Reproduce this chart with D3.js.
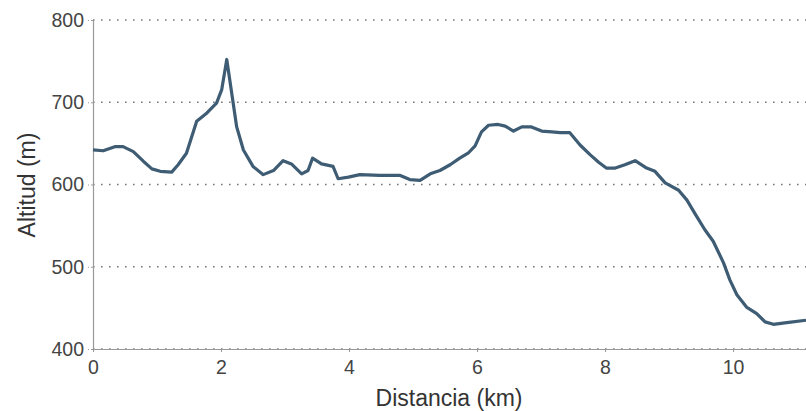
<!DOCTYPE html>
<html>
<head>
<meta charset="utf-8">
<script src="https://cdn.jsdelivr.net/npm/d3@7"></script>
<style>
  body { margin: 0; background: #fff; }
  svg { display: block; font-family: "Liberation Sans", Arial, sans-serif; }
</style>
</head>
<body>
<svg id="chart"></svg>
<script>
"use strict";

// distance (km) and altitude (m)
const distances = [
  0, 0.16, 0.34, 0.47, 0.63, 0.79, 0.92, 1.05, 1.23, 1.33, 1.46, 1.62, 1.78,
  1.93, 2.01, 2.09, 2.245, 2.35, 2.5, 2.66, 2.82, 2.97, 3.1, 3.26, 3.36, 3.43,
  3.57, 3.75, 3.83, 3.99, 4.17, 4.48, 4.8, 4.95, 5.11, 5.27, 5.42, 5.58, 5.73,
  5.86, 5.97, 6.07, 6.18, 6.33, 6.44, 6.57, 6.7, 6.85, 7.01, 7.17, 7.3, 7.45,
  7.61, 7.77, 7.9, 8.02, 8.16, 8.31, 8.47, 8.65, 8.78, 8.94, 9.15, 9.28, 9.41,
  9.56, 9.69, 9.85, 9.95, 10.06, 10.21, 10.37, 10.5, 10.63, 10.84, 11.14
];
const altitudes = [
  642, 641, 646, 646, 640, 628, 619, 616, 615, 624, 638, 677, 687,
  699, 715, 752, 670, 642, 622, 612, 617, 629, 625, 613, 617, 632,
  625, 622, 607, 609, 612, 611, 611, 606, 605, 613, 617, 624, 632,
  638, 647, 664, 672, 673, 671, 665, 670, 670, 665, 664, 663, 663,
  648, 636, 627, 620, 620, 624, 629, 620, 616, 602, 593, 581, 564,
  545, 531, 505, 484, 466, 451, 443, 433, 430, 432, 435
];
const xTicks = [0, 2, 4, 6, 8, 10];
const yTicks = [400, 500, 600, 700, 800];

const width = 806;
const height = 411;
const margin = { top: 20, right: 0, bottom: 62, left: 93 };

const svg = d3.select("#chart").attr("width", width).attr("height", height);

const xScale = d3
  .scaleLinear()
  .domain([0, 11.14])
  .range([margin.left, width - margin.right]);

const yScale = d3
  .scaleLinear()
  .domain([400, 800])
  .range([height - margin.bottom, margin.top]);

// dotted horizontal grid
svg
  .append("g")
  .selectAll("line")
  .data(yTicks)
  .enter()
  .append("line")
  .attr("x1", margin.left)
  .attr("x2", width - margin.right)
  .attr("y1", (d) => yScale(d))
  .attr("y2", (d) => yScale(d))
  .attr("stroke", "#777")
  .attr("stroke-width", 1.6)
  .attr("stroke-dasharray", "1.6,6.4");

const xAxis = d3.axisBottom(xScale).tickValues(xTicks).tickSize(3).tickSizeOuter(0);
const yAxis = d3.axisLeft(yScale).tickValues(yTicks).tickSize(5).tickSizeOuter(0);

const gx = svg
  .append("g")
  .attr("transform", `translate(0,${height - margin.bottom})`)
  .call(xAxis);

const gy = svg
  .append("g")
  .attr("transform", `translate(${margin.left},0)`)
  .call(yAxis);

[gx, gy].forEach((g) => {
  g.select(".domain").attr("stroke", "#999").attr("stroke-width", 1.2);
  g.selectAll(".tick line").attr("stroke", "#999");
  g.selectAll(".tick text")
    .attr("fill", "#444")
    .style("font-size", "19.5px")
    .style("font-family", "'Liberation Sans', Arial, sans-serif");
});
gx.selectAll(".tick text").attr("dy", "0.95em");
gy.selectAll(".tick text").attr("x", -9);
gy.selectAll(".tick line").attr("stroke-dasharray", "2,2");

// profile line
const points = distances.map((d, i) => [d, altitudes[i]]);

const line = d3
  .line()
  .x((d) => xScale(d[0]))
  .y((d) => yScale(d[1]));

svg
  .append("path")
  .datum(points)
  .attr("fill", "none")
  .attr("stroke", "#3e5c73")
  .attr("stroke-width", 3.2)
  .attr("stroke-linejoin", "round")
  .attr("d", line);

// axis titles
svg
  .append("text")
  .attr("x", 449)
  .attr("y", 406)
  .attr("text-anchor", "middle")
  .attr("fill", "#333")
  .style("font-size", "23px")
  .text("Distancia (km)");

svg
  .append("text")
  .attr("transform", "translate(35,185) rotate(-90)")
  .attr("text-anchor", "middle")
  .attr("fill", "#333")
  .style("font-size", "23px")
  .text("Altitud (m)");
</script>
</body>
</html>
